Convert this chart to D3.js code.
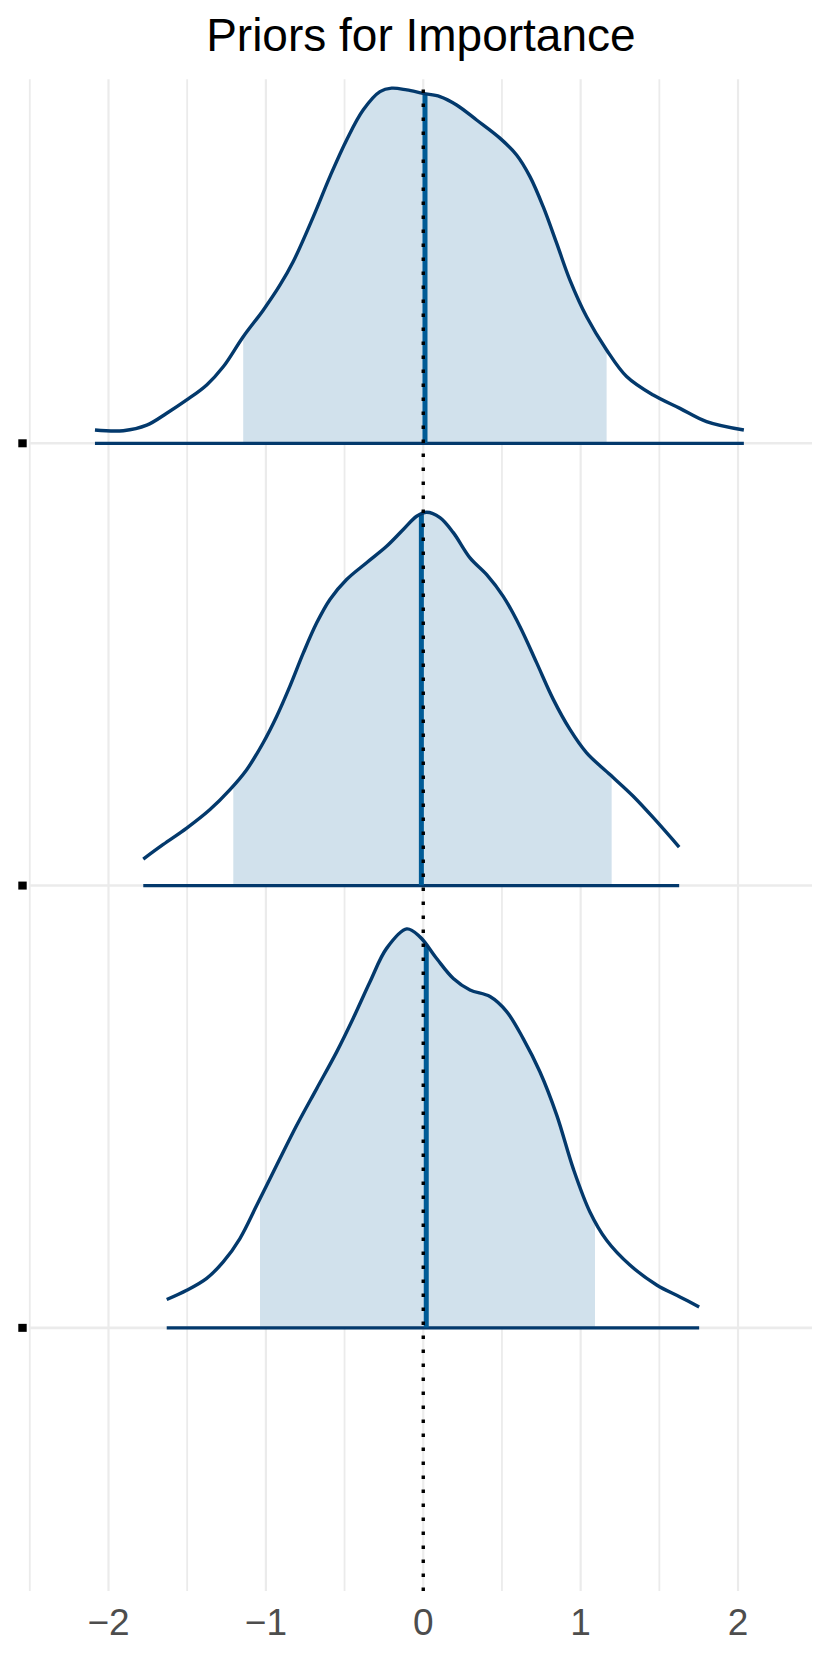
<!DOCTYPE html>
<html>
<head>
<meta charset="utf-8">
<title>Priors for Importance</title>
<script src="https://cdn.jsdelivr.net/npm/d3@7/dist/d3.min.js"></script>
<style>
    body { margin: 0; background: #ffffff; }
    #chart-area { width: 830px; height: 1661px; }
    text { font-family: "Liberation Sans", Arial, Helvetica, sans-serif; }
</style>
</head>
<body>
<div id="chart-area"></div>
<script>
// rows, top to bottom (position on the y scale)
const params = ["par1", "par2", "par3"];
const rowPos = [3, 2, 1];

// density outlines (x value, scaled height)
const x1 = [-2.086, -1.906, -1.757, -1.630, -1.503, -1.376, -1.271, -1.144, -1.017, -0.910, -0.826, -0.699, -0.593, -0.487, -0.381, -0.275, -0.201, -0.105, 0, 0.106, 0.212, 0.339, 0.487, 0.593, 0.678, 0.762, 0.848, 0.932, 1.038, 1.165, 1.292, 1.461, 1.631, 1.800, 2.037];
const h1 = [0.030, 0.0285, 0.041, 0.068, 0.098, 0.132, 0.173, 0.241, 0.301, 0.358, 0.411, 0.512, 0.603, 0.686, 0.754, 0.795, 0.803, 0.799, 0.791, 0.784, 0.765, 0.731, 0.690, 0.652, 0.603, 0.535, 0.452, 0.369, 0.286, 0.211, 0.151, 0.109, 0.079, 0.049, 0.030];

const x2 = [-1.779, -1.652, -1.503, -1.355, -1.228, -1.122, -1.017, -0.931, -0.847, -0.762, -0.677, -0.593, -0.487, -0.360, -0.233, -0.127, -0.042, 0.022, 0.106, 0.191, 0.297, 0.403, 0.508, 0.614, 0.720, 0.826, 0.932, 1.038, 1.186, 1.334, 1.483, 1.626];
const h2 = [0.060, 0.093, 0.130, 0.172, 0.217, 0.262, 0.323, 0.383, 0.451, 0.526, 0.594, 0.647, 0.692, 0.730, 0.767, 0.805, 0.835, 0.844, 0.832, 0.798, 0.741, 0.703, 0.654, 0.586, 0.504, 0.421, 0.353, 0.300, 0.251, 0.202, 0.145, 0.087];

const x3 = [-1.630, -1.503, -1.376, -1.271, -1.165, -1.058, -0.931, -0.804, -0.677, -0.550, -0.445, -0.339, -0.233, -0.105, -0.021, 0.085, 0.191, 0.297, 0.424, 0.530, 0.635, 0.741, 0.848, 0.953, 1.059, 1.165, 1.313, 1.483, 1.631, 1.753];
const h3 = [0.064, 0.085, 0.112, 0.149, 0.202, 0.277, 0.368, 0.458, 0.541, 0.624, 0.700, 0.782, 0.858, 0.902, 0.884, 0.835, 0.790, 0.764, 0.749, 0.715, 0.654, 0.579, 0.481, 0.360, 0.262, 0.198, 0.142, 0.097, 0.070, 0.047];

// central intervals and medians
const intervalLow = [-1.144, -1.207, -1.037];
const intervalHigh = [1.165, 1.197, 1.091];
const medians = [0.011, -0.012, 0.019];

// axis stuff
const xDomain = [-2.5, 2.47];
const yDomain = [0.405, 3.823];
const xTicks = [-2, -1, 0, 1, 2];
const xMinorTicks = [-2.5, -1.5, -0.5, 0.5, 1.5];
const refLine = 0;
const plotTitle = "Priors for Importance";

class AreasPlot {
    constructor(parentElement, rows) {
        this.parentElement = parentElement;
        this.rows = rows;
        this.initVis();
    }

    initVis() {
        let vis = this;

        vis.margin = {top: 79.3, right: 18, bottom: 70, left: 29.8};
        vis.width = 830 - vis.margin.left - vis.margin.right;
        vis.height = 1661 - vis.margin.top - vis.margin.bottom;

        vis.colors = {light: "#d1e1ec", midHighlight: "#005b96", dark: "#03396c", grid: "#ebebeb"};

        vis.svgRoot = d3.select("#" + vis.parentElement).append("svg")
            .attr("width", vis.width + vis.margin.left + vis.margin.right)
            .attr("height", vis.height + vis.margin.top + vis.margin.bottom);

        vis.svgRoot.append("rect")
            .attr("width", 830).attr("height", 1661)
            .attr("fill", "#ffffff");

        vis.defs = vis.svgRoot.append("defs");

        vis.svg = vis.svgRoot.append("g")
            .attr("transform", "translate(" + vis.margin.left + "," + vis.margin.top + ")");

        vis.x = d3.scaleLinear().domain(xDomain).range([0, vis.width]);
        vis.y = d3.scaleLinear().domain(yDomain).range([vis.height, 0]);

        // grid lines
        vis.svg.selectAll(".minor-grid")
            .data(xMinorTicks)
            .enter()
            .append("line")
            .attr("class", "minor-grid")
            .attr("x1", d => vis.x(d)).attr("x2", d => vis.x(d))
            .attr("y1", 0).attr("y2", vis.height)
            .attr("stroke", vis.colors.grid)
            .attr("stroke-width", 1.8);

        vis.svg.selectAll(".major-grid")
            .data(xTicks)
            .enter()
            .append("line")
            .attr("class", "major-grid")
            .attr("x1", d => vis.x(d)).attr("x2", d => vis.x(d))
            .attr("y1", 0).attr("y2", vis.height)
            .attr("stroke", vis.colors.grid)
            .attr("stroke-width", 2.2);

        vis.svg.selectAll(".row-grid")
            .data(rowPos)
            .enter()
            .append("line")
            .attr("class", "row-grid")
            .attr("x1", 0).attr("x2", vis.width)
            .attr("y1", d => vis.y(d)).attr("y2", d => vis.y(d))
            .attr("stroke", vis.colors.grid)
            .attr("stroke-width", 2.6);

        // area + line generators, height is stacked on the row position
        vis.area = d3.area()
            .x(d => vis.x(d.x))
            .y0(d => vis.y(d.pos))
            .y1(d => vis.y(d.pos + d.h))
            .curve(d3.curveCatmullRom);

        vis.line = d3.line()
            .x(d => vis.x(d.x))
            .y(d => vis.y(d.pos + d.h))
            .curve(d3.curveCatmullRom);

        vis.rows.forEach(function(row, i) {
            let pts = row.xs.map((v, j) => ({x: v, h: row.hs[j], pos: row.pos}));
            let g = vis.svg.append("g").attr("class", "density-row");

            // clip for the interval band (same coords as the inner g)
            vis.defs.append("clipPath")
                .attr("id", "interval-clip-" + i)
                .append("rect")
                .attr("x", vis.x(row.lo))
                .attr("y", -vis.margin.top)
                .attr("width", vis.x(row.hi) - vis.x(row.lo))
                .attr("height", 1661);

            // clip to the shape of the density (for the median segment)
            vis.defs.append("clipPath")
                .attr("id", "density-clip-" + i)
                .append("path")
                .attr("d", vis.area(pts));

            g.append("path")
                .attr("clip-path", "url(#interval-clip-" + i + ")")
                .attr("d", vis.area(pts))
                .attr("fill", vis.colors.light);

            // baseline segment over the data range
            g.append("line")
                .attr("x1", vis.x(row.xs[0]))
                .attr("x2", vis.x(row.xs[row.xs.length - 1]))
                .attr("y1", vis.y(row.pos)).attr("y2", vis.y(row.pos))
                .attr("stroke", vis.colors.dark)
                .attr("stroke-width", 3.3);

            // median
            g.append("line")
                .attr("clip-path", "url(#density-clip-" + i + ")")
                .attr("x1", vis.x(row.med)).attr("x2", vis.x(row.med))
                .attr("y1", vis.y(row.pos)).attr("y2", vis.y(row.pos + 1))
                .attr("stroke", vis.colors.midHighlight)
                .attr("stroke-width", 5);

            g.append("path")
                .attr("d", vis.line(pts))
                .attr("fill", "none")
                .attr("stroke", vis.colors.dark)
                .attr("stroke-width", 3.4)
                .attr("stroke-linejoin", "round");
        });

        // dotted reference line at zero, drawn bottom to top like ggplot
        vis.svg.append("path")
            .attr("d", "M" + vis.x(refLine) + "," + vis.height + "V0")
            .attr("stroke", "#000000")
            .attr("stroke-width", 3.4)
            .attr("stroke-dasharray", "3.4,10.6")
            .attr("fill", "none");

        // y axis "labels" show up as little black squares
        vis.svgRoot.selectAll(".y-mark")
            .data(rowPos)
            .enter()
            .append("rect")
            .attr("class", "y-mark")
            .attr("x", 18.3)
            .attr("y", d => vis.margin.top + vis.y(d) - 4)
            .attr("width", 8.4)
            .attr("height", 8)
            .attr("fill", "#000000");

        // x tick labels
        vis.svg.selectAll(".x-label")
            .data(xTicks)
            .enter()
            .append("text")
            .attr("class", "x-label")
            .attr("x", d => vis.x(d))
            .attr("y", vis.height + 44)
            .attr("text-anchor", "middle")
            .attr("font-size", 37)
            .attr("fill", "#4d4d4d")
            .text(d => d < 0 ? "\u2212" + Math.abs(d) : d);

        // title
        vis.svg.append("text")
            .attr("x", vis.width / 2)
            .attr("y", 51 - vis.margin.top)
            .attr("text-anchor", "middle")
            .attr("font-size", 46)
            .attr("fill", "#000000")
            .text(plotTitle);
    }
}

const rows = [
    {name: params[0], pos: rowPos[0], xs: x1, hs: h1, lo: intervalLow[0], hi: intervalHigh[0], med: medians[0]},
    {name: params[1], pos: rowPos[1], xs: x2, hs: h2, lo: intervalLow[1], hi: intervalHigh[1], med: medians[1]},
    {name: params[2], pos: rowPos[2], xs: x3, hs: h3, lo: intervalLow[2], hi: intervalHigh[2], med: medians[2]}
];

let myAreasPlot = new AreasPlot("chart-area", rows);
</script>
</body>
</html>
